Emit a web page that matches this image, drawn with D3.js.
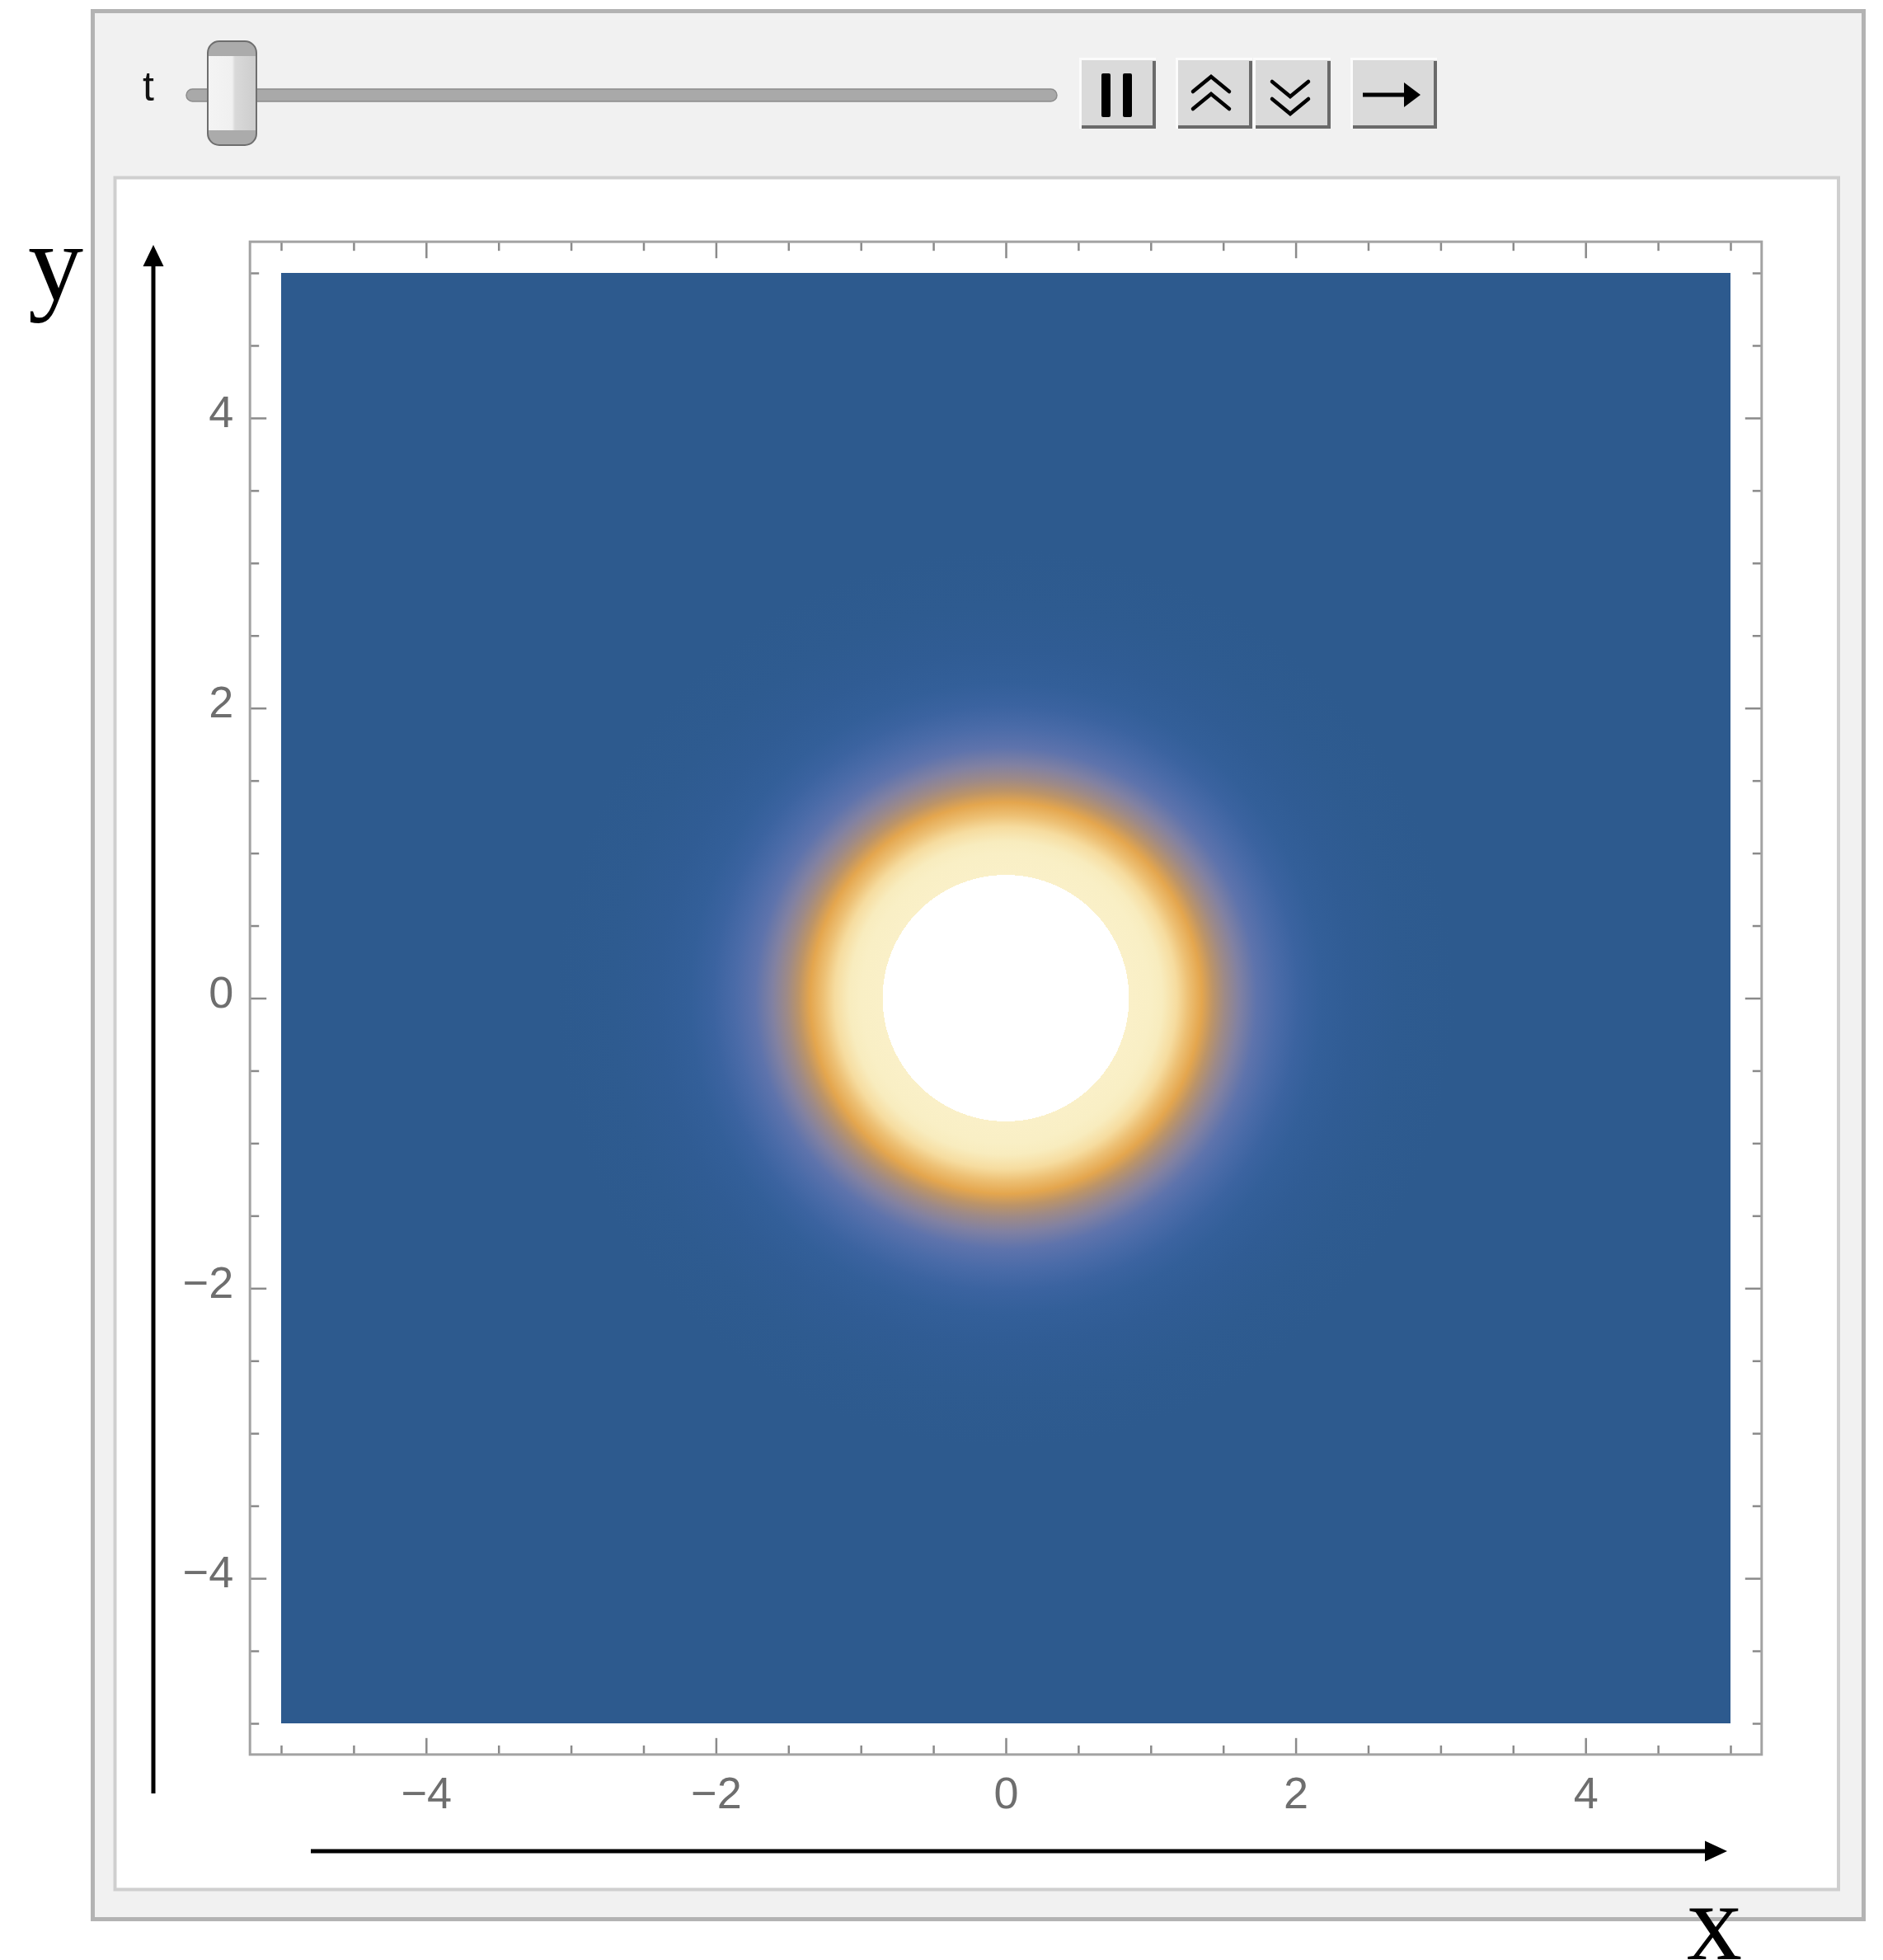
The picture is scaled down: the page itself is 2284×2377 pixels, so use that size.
<!DOCTYPE html>
<html lang="en">
<head>
<meta charset="UTF-8">
<title>Density animation frame</title>
<script src="https://cdn.jsdelivr.net/npm/d3@7"></script>
<style>
    body { margin: 0; background: #fff; }
    svg { display: block; }
    .tick text { font-family: "Liberation Sans", Arial, sans-serif; font-size: 54px; fill: #6e6e6e; }
</style>
</head>
<body>
<svg id="chart" width="2284" height="2377"></svg>
<script>
    // radial profile of the field, read along a ray out of the centre (r in plot units)
    var profileR = [0, 0.85, 0.85, 1.00, 1.08, 1.18, 1.26, 1.35, 1.43, 1.51, 1.61, 1.73, 1.87, 2.02, 2.18, 2.40, 2.70, 3.10, 7.2];
    var profileV = [1.2, 1.2, 0.93, 0.91, 0.88, 0.78, 0.68, 0.60, 0.52, 0.46, 0.40, 0.32, 0.25, 0.18, 0.12, 0.06, 0.02, 0, 0];

    // colour gradient (values above 1 are clipped to white)
    var colorLevels = [0, 0.15, 0.3, 0.42, 0.5, 0.6, 0.75, 0.9, 1];
    var colorHexes = ["#2d5a8e", "#34609c", "#5570ae", "#8a84a0", "#b2906e", "#e4a64e", "#f5d796", "#f9efc4", "#fbf3d0"];

    var xDomain = [-5, 5];
    var yDomain = [-5, 5];
    var majorTicks = [-4, -2, 0, 2, 4];
    var minorTicks = [-5, -4.5, -3.5, -3, -2.5, -1.5, -1, -0.5, 0.5, 1, 1.5, 2.5, 3, 3.5, 4.5, 5];

    var svg = d3.select("#chart");
    var defs = svg.append("defs");

    var x = d3.scaleLinear().domain(xDomain).range([341, 2099]);
    var y = d3.scaleLinear().domain(yDomain).range([2090, 331]);
    var pad = 0.215;

    var color = d3.scaleLinear().domain(colorLevels).range(colorHexes).clamp(true);
    function fieldColor(v) { return v > 1 ? "#ffffff" : color(v); }

    // ---- outer control panel ----
    svg.append("rect")
        .attr("x", 112.5).attr("y", 13.5)
        .attr("width", 2148).attr("height", 2314)
        .attr("fill", "#f1f1f1").attr("stroke", "#b3b3b3").attr("stroke-width", 5);

    svg.append("rect")
        .attr("x", 139.5).attr("y", 215.5)
        .attr("width", 2090.5).attr("height", 2076)
        .attr("fill", "#ffffff").attr("stroke", "#cfcfcf").attr("stroke-width", 4);

    // slider
    svg.append("text")
        .attr("x", 173).attr("y", 122)
        .attr("font-family", "Liberation Sans, Arial, sans-serif")
        .attr("font-size", 50).attr("fill", "#111")
        .text("t");

    svg.append("rect")
        .attr("x", 226).attr("y", 108).attr("width", 1056).attr("height", 15)
        .attr("rx", 7.5)
        .attr("fill", "#a9a9a9").attr("stroke", "#8c8c8c").attr("stroke-width", 1.5);

    var thumbGrad = defs.append("linearGradient").attr("id", "thumbGrad");
    thumbGrad.append("stop").attr("offset", 0).attr("stop-color", "#f4f4f4");
    thumbGrad.append("stop").attr("offset", 0.5).attr("stop-color", "#f0f0f0");
    thumbGrad.append("stop").attr("offset", 0.56).attr("stop-color", "#d9d9d9");
    thumbGrad.append("stop").attr("offset", 1).attr("stop-color", "#cdcdcd");

    defs.append("clipPath").attr("id", "thumbClip")
        .append("rect").attr("x", 252).attr("y", 50).attr("width", 59).attr("height", 126).attr("rx", 14);

    var thumb = svg.append("g");
    thumb.append("rect").attr("x", 252).attr("y", 50).attr("width", 59).attr("height", 126).attr("rx", 14)
        .attr("fill", "url(#thumbGrad)");
    thumb.append("rect").attr("x", 252).attr("y", 50).attr("width", 59).attr("height", 18)
        .attr("fill", "#ababab").attr("clip-path", "url(#thumbClip)");
    thumb.append("rect").attr("x", 252).attr("y", 158).attr("width", 59).attr("height", 18)
        .attr("fill", "#ababab").attr("clip-path", "url(#thumbClip)");
    thumb.append("rect").attr("x", 252).attr("y", 50).attr("width", 59).attr("height", 126).attr("rx", 14)
        .attr("fill", "none").attr("stroke", "#6e6e6e").attr("stroke-width", 2);

    // buttons
    function button(x0, x1) {
        var g = svg.append("g");
        g.append("rect").attr("x", x0 - 3).attr("y", 70).attr("width", x1 - x0 + 3).attr("height", 86)
            .attr("fill", "#fbfbfb");
        g.append("rect").attr("x", x0).attr("y", 73).attr("width", x1 - x0).attr("height", 83)
            .attr("fill", "#dadada");
        g.append("path")
            .attr("d", "M" + (x1 - 2) + ",74 V154 H" + x0)
            .attr("fill", "none").attr("stroke", "#6a6a6a").attr("stroke-width", 4);
        return g;
    }
    var bPause = button(1312, 1402);
    bPause.append("rect").attr("x", 1336).attr("y", 89).attr("width", 11).attr("height", 53).attr("rx", 2).attr("fill", "#000");
    bPause.append("rect").attr("x", 1362).attr("y", 89).attr("width", 11).attr("height", 53).attr("rx", 2).attr("fill", "#000");

    var bUp = button(1429, 1519);
    [93, 114].forEach(function (t) {
        bUp.append("path").attr("d", "M1447," + (t + 18) + " L1469," + t + " L1491," + (t + 18))
            .attr("fill", "none").attr("stroke", "#000").attr("stroke-width", 4.5).attr("stroke-linecap", "round");
    });
    var bDown = button(1523, 1614);
    [99, 120].forEach(function (t) {
        bDown.append("path").attr("d", "M1543," + t + " L1565," + (t + 18) + " L1587," + t)
            .attr("fill", "none").attr("stroke", "#000").attr("stroke-width", 4.5).attr("stroke-linecap", "round");
    });
    var bNext = button(1641, 1743);
    bNext.append("line").attr("x1", 1653).attr("x2", 1708).attr("y1", 115).attr("y2", 115)
        .attr("stroke", "#000").attr("stroke-width", 5);
    bNext.append("path").attr("d", "M1703,100 L1723,115 L1703,130 Z").attr("fill", "#000");

    // ---- density field ----
    var rMax = profileR[profileR.length - 1];
    var grad = defs.append("radialGradient")
        .attr("id", "field")
        .attr("gradientUnits", "userSpaceOnUse")
        .attr("cx", x(0)).attr("cy", y(0))
        .attr("r", x(rMax) - x(0));
    grad.selectAll("stop")
        .data(profileR)
        .enter().append("stop")
        .attr("offset", function (d) { return d / rMax; })
        .attr("stop-color", function (d, i) { return fieldColor(profileV[i]); });

    svg.append("rect")
        .attr("x", x(xDomain[0])).attr("y", y(yDomain[1]))
        .attr("width", x(xDomain[1]) - x(xDomain[0]))
        .attr("height", y(yDomain[0]) - y(yDomain[1]))
        .attr("fill", "url(#field)");

    // ---- frame and ticks ----
    var fx0 = x(xDomain[0] - pad), fx1 = x(xDomain[1] + pad);
    var fy0 = y(yDomain[1] + pad), fy1 = y(yDomain[0] - pad);

    function styleAxis(g) {
        g.select(".domain").remove();
        g.selectAll(".tick line").attr("stroke", "#8a8a8a").attr("stroke-width", 2.5);
    }
    function fmt(d) { return d < 0 ? "\u2212" + Math.abs(d) : String(d); }

    svg.append("g").attr("transform", "translate(0," + fy1 + ")")
        .call(d3.axisBottom(x).tickValues(majorTicks).tickSize(-20).tickPadding(27).tickFormat(fmt))
        .call(styleAxis);
    svg.append("g").attr("transform", "translate(0," + fy1 + ")")
        .call(d3.axisBottom(x).tickValues(minorTicks).tickSize(-11).tickFormat(""))
        .call(styleAxis);
    svg.append("g").attr("transform", "translate(0," + fy0 + ")")
        .call(d3.axisTop(x).tickValues(majorTicks).tickSize(-20).tickFormat(""))
        .call(styleAxis);
    svg.append("g").attr("transform", "translate(0," + fy0 + ")")
        .call(d3.axisTop(x).tickValues(minorTicks).tickSize(-11).tickFormat(""))
        .call(styleAxis);

    var left = svg.append("g").attr("transform", "translate(" + fx0 + ",0)")
        .call(d3.axisLeft(y).tickValues(majorTicks).tickSize(-20).tickPadding(20).tickFormat(fmt))
        .call(styleAxis);
    left.selectAll(".tick text").attr("dy", "0.2em");
    svg.append("g").attr("transform", "translate(" + fx0 + ",0)")
        .call(d3.axisLeft(y).tickValues(minorTicks).tickSize(-11).tickFormat(""))
        .call(styleAxis);
    svg.append("g").attr("transform", "translate(" + fx1 + ",0)")
        .call(d3.axisRight(y).tickValues(majorTicks).tickSize(-20).tickFormat(""))
        .call(styleAxis);
    svg.append("g").attr("transform", "translate(" + fx1 + ",0)")
        .call(d3.axisRight(y).tickValues(minorTicks).tickSize(-11).tickFormat(""))
        .call(styleAxis);

    svg.append("rect")
        .attr("x", fx0).attr("y", fy0)
        .attr("width", fx1 - fx0).attr("height", fy1 - fy0)
        .attr("fill", "none").attr("stroke", "#a3a3a3").attr("stroke-width", 3);

    // ---- hand drawn axis arrows and labels ----
    svg.append("line").attr("x1", 186).attr("x2", 186).attr("y1", 2175).attr("y2", 318)
        .attr("stroke", "#000").attr("stroke-width", 5);
    svg.append("path").attr("d", "M186,297 L173.5,323 L198.5,323 Z").attr("fill", "#000");

    svg.append("line").attr("x1", 377).attr("x2", 2072).attr("y1", 2245).attr("y2", 2245)
        .attr("stroke", "#000").attr("stroke-width", 5);
    svg.append("path").attr("d", "M2095,2245 L2068,2232.5 L2068,2257.5 Z").attr("fill", "#000");

    svg.append("text").attr("x", 34).attr("y", 364)
        .attr("font-family", "Liberation Serif, Times New Roman, serif")
        .attr("font-size", 134).attr("fill", "#000").text("y");
    svg.append("text").attr("x", 2046).attr("y", 2376)
        .attr("font-family", "Liberation Serif, Times New Roman, serif")
        .attr("font-size", 134).attr("fill", "#000").text("x");
</script>
</body>
</html>
